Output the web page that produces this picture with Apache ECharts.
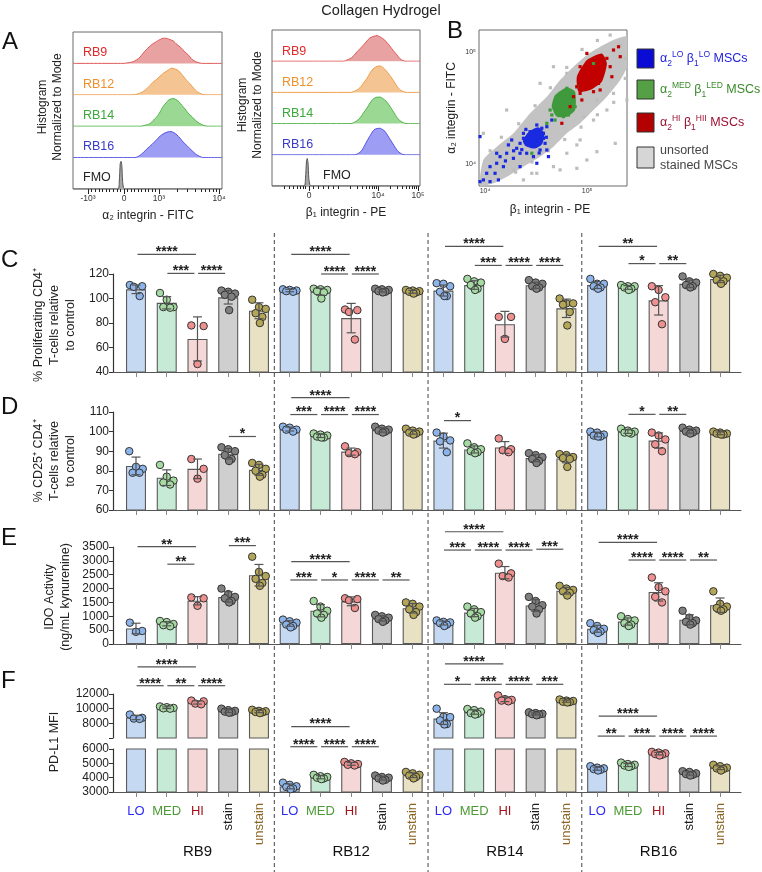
<!DOCTYPE html>
<html>
<head>
<meta charset="utf-8">
<title>Collagen Hydrogel</title>
<script src="https://cdn.jsdelivr.net/npm/echarts@6.0.0/dist/echarts.min.js"></script>
<style>
html,body{margin:0;padding:0;background:#fff;}
#chart{width:762px;height:872px;}
</style>
</head>
<body>
<div id="chart"></div>
<script>
// ================= DATA =================
const groups = ['RB9', 'RB12', 'RB14', 'RB16'];
const conditions = ['LO', 'MED', 'HI', 'stain', 'unstain'];

// ---- Panel A histograms (x in display units of the biexponential axis, y normalised to row height)
const alphaTickPos = [15, 51, 86, 146];
const alphaTickLab = ['-10³', '0', '10³', '10⁴'];
const alphaMinorPos = [18.6, 22.2, 25.8, 29.4, 33, 36.6, 40.2, 43.8, 47.4, 54.5, 58, 61.5, 65, 68.5, 72, 75.5, 79, 82.5, 104, 114.6, 122, 128, 132.7, 136.7, 140.2, 143.3];
const betaTickPos = [37, 106, 146];
const betaTickLab = ['0', '10⁴', '10⁵'];
const betaMinorPos = [12, 17, 21, 25, 28, 31, 33.5, 41, 46, 51, 56, 61, 66, 78, 85.1, 90.1, 94, 97.1, 99.8, 102.1, 104.2, 118, 125.1, 130.1, 134, 137.1, 139.8, 142.1, 144.2];

const alphaRB9 = [[0,0],[50,0],[55,0.02],[60,0.05],[64,0.12],[67,0.2],[70,0.32],[73.7,0.45],[78.7,0.6],[83.7,0.7],[87,0.76],[90,0.8],[93,0.8],[96,0.77],[100,0.72],[104,0.6],[108,0.5],[112,0.36],[115,0.28],[119,0.13],[123,0.05],[127,0.01],[130,0],[149,0]];
const alphaRB12 = [[0,0],[60,0],[65,0.03],[70,0.1],[74,0.2],[77,0.3],[80,0.4],[84,0.5],[88,0.62],[91,0.7],[95,0.78],[98.7,0.85],[101,0.83],[104,0.8],[107,0.72],[110,0.6],[114,0.45],[117,0.35],[121,0.2],[124,0.1],[128,0.03],[131,0],[149,0]];
const alphaRB14 = [[0,0],[68,0],[72,0.03],[77,0.08],[80,0.18],[84,0.3],[87,0.45],[90,0.62],[93,0.74],[96,0.84],[100,0.88],[103,0.85],[106,0.78],[109,0.66],[112,0.55],[115,0.42],[119,0.3],[123,0.17],[127,0.08],[131,0.02],[135,0],[149,0]];
const alphaRB16 = [[0,0],[62,0],[66,0.05],[70,0.15],[74,0.28],[79,0.42],[83,0.55],[87,0.68],[91,0.77],[95,0.82],[98,0.83],[101,0.79],[104,0.72],[107,0.62],[110,0.5],[114,0.38],[117,0.28],[121,0.16],[124,0.08],[128,0.02],[131,0],[149,0]];
const alphaFMO = [[0,0],[45,0],[46.3,0.25],[47.2,0.8],[48,0.88],[48.8,0.75],[49.6,0.25],[50.5,0.05],[52,0],[149,0]];

const betaRB9 = [[0,0],[72,0],[75,0.04],[78,0.08],[81,0.15],[85,0.3],[88,0.4],[91,0.5],[95,0.65],[98,0.75],[102,0.8],[105,0.82],[108,0.78],[111,0.72],[115,0.6],[118,0.48],[121,0.35],[125,0.2],[128,0.08],[131,0.02],[134,0],[148,0]];
const betaRB12 = [[0,0],[79,0],[81,0.02],[84,0.06],[88,0.15],[91,0.28],[95,0.45],[98,0.62],[101,0.75],[104,0.82],[108,0.85],[111,0.8],[114,0.7],[117,0.58],[120,0.45],[123,0.3],[126,0.15],[129,0.06],[132,0.02],[134,0],[148,0]];
const betaRB14 = [[0,0],[79,0],[81,0.02],[84,0.07],[88,0.18],[91,0.32],[95,0.5],[98,0.66],[101,0.78],[104,0.84],[108,0.85],[111,0.8],[114,0.72],[117,0.6],[120,0.45],[123,0.3],[126,0.15],[130,0.05],[133,0.01],[135,0],[148,0]];
const betaRB16 = [[0,0],[83,0],[85,0.02],[88,0.08],[90,0.15],[93,0.32],[96,0.5],[99,0.66],[102,0.8],[105,0.84],[108,0.85],[111,0.8],[113,0.75],[116,0.6],[119,0.45],[122,0.3],[125,0.15],[128,0.06],[131,0.01],[133,0],[148,0]];
const betaFMO = [[0,0],[32,0],[33.5,0.25],[34.5,0.8],[35.2,0.88],[36,0.75],[36.8,0.25],[37.8,0.05],[39,0],[148,0]];

// ---- Panel B scatter (log10 of fluorescence: [beta1-PE, alpha2-FITC])
const scatterTickPos = [4, 5];
const scatterTickLab = ['10⁴', '10⁵'];
const grayCloud = [[3.983,4.038],[4.115,4.156],[4.278,4.275],[4.441,4.453],[4.605,4.6],[4.735,4.749],[4.866,4.867],[4.997,4.971],[5.127,5.044],[5.258,5.104],[5.389,5.133],[5.389,4.867],[5.324,4.749],[5.193,4.6],[5.062,4.482],[4.931,4.364],[4.801,4.275],[4.670,4.156],[4.539,4.067],[4.375,3.979],[4.213,3.89],[4.081,3.831],[3.951,3.813]];
const grayPts = [[5.225,5.148],[5.324,5.059],[5.373,4.941],[5.373,4.763],[5.193,4.482],[5.062,4.393],[4.931,4.216],[4.801,4.098],[4.670,3.979],[4.507,3.920],[4.376,3.861],[3.984,4.275],[4.997,4.038],[4.899,3.964],[5.258,4.630],[4.801,4.808],[4.670,4.867],[4.539,4.719],[4.735,3.950],[5.095,4.571],[4.964,4.423],[5.389,4.571],[5.275,4.186],[4.899,4.172],[4.458,3.920],[4.278,3.950],[4.212,4.482],[5.095,4.112],[4.05,4.12],[4.16,4.24],[4.33,4.36],[4.49,4.52],[4.64,4.68],[4.80,4.86],[4.95,5.02],[5.10,5.10],[4.30,3.93],[4.46,4.02],[4.62,4.12],[4.78,4.22],[4.94,4.33],[5.10,4.44],[5.26,4.55]];
const blueCore = [[4.43,4.29],[4.52,4.33],[4.58,4.28],[4.56,4.18],[4.49,4.14],[4.40,4.16],[4.37,4.21]];
const bluePts = [[4.507,4.349],[4.556,4.320],[4.441,4.290],[4.376,4.275],[4.572,4.275],[4.474,4.246],[4.408,4.216],[4.523,4.216],[4.343,4.186],[4.458,4.157],[4.588,4.186],[4.539,4.127],[4.310,4.142],[4.408,4.098],[4.261,4.216],[4.212,4.098],[4.147,4.068],[4.278,4.053],[4.114,4.009],[4.049,3.979],[4.180,3.979],[4.016,3.920],[4.098,3.920],[3.984,3.861],[4.049,3.846],[4.131,3.861],[3.951,3.846],[4.343,3.979],[4.474,4.068],[4.229,4.172],[4.621,4.068],[4.507,4.009],[4.654,4.393],[4.605,4.334],[4.114,4.098],[3.951,4.246],[4.490,4.290],[4.425,4.260],[4.507,4.186],[4.572,4.231],[4.376,4.231],[4.458,4.201],[4.343,4.098],[4.605,4.127],[4.40,4.31],[4.60,4.24],[4.36,4.13],[4.53,4.10],[4.28,4.12],[4.20,4.03]];
const greenCore = [[4.686,4.615],[4.801,4.683],[4.882,4.645],[4.882,4.482],[4.801,4.423],[4.703,4.423],[4.654,4.512]];
const greenPts = [[4.735,4.630],[4.784,4.645],[4.817,4.601],[4.703,4.571],[4.768,4.556],[4.833,4.541],[4.670,4.512],[4.752,4.497],[4.801,4.482],[4.719,4.453],[4.850,4.630],[4.866,4.571],[4.654,4.438],[4.768,4.423],[4.899,4.689],[4.882,4.512],[4.637,4.482],[4.686,4.393],[4.605,4.364],[5.062,4.896],[4.458,4.098],[4.801,4.675],[4.752,4.586],[4.817,4.438],[4.703,4.512]];
const redCore = [[4.899,4.778],[4.997,4.926],[5.144,4.985],[5.193,4.896],[5.144,4.734],[5.029,4.660],[4.915,4.645]];
const redPts = [[4.931,4.867],[4.997,4.896],[5.062,4.926],[5.127,4.956],[4.964,4.808],[5.029,4.822],[5.095,4.867],[5.160,4.896],[4.931,4.749],[4.997,4.734],[5.062,4.778],[5.127,4.808],[4.899,4.689],[4.980,4.675],[5.046,4.704],[5.193,4.941],[5.225,4.867],[5.111,4.719],[4.931,4.630],[4.866,4.601],[4.997,4.985],[5.258,5.015],[5.307,5.044],[5.324,4.956],[5.242,4.778],[4.833,4.512],[4.948,4.571],[4.752,4.364],[5.062,4.645],[5.127,4.660]];

// ---- Panel C: % proliferating CD4+ T-cells relative to control
const cMean = [107.5,96.5,67,101,90, 106.5,105.5,84,106.5,105.5, 106.5,111,79,110.8,92, 111,109,98.5,112,116];
const cSD = [3.5,5,18,5.5,6.5, 1,2.8,12,1.2,1.2, 4.5,3.5,10.5,2.5,7.5, 2.8,1.5,12,3,3];
const cDots = [
  [111,110,109.5,102],[104.5,99,93,93,92.5],[78,77.5,46.5],[106.5,105.5,104,103,101.5,90.5],[99,93,91.5,88,85,80],
  [107.5,107,106.5,106,105.5],[108,107.5,107,106,105,100],[91,90.5,89,66.5],[108,107.5,107,106,105.5,105],[107,106.5,106,105.5,105,104],
  [112.5,112,110,105.5,102,102],[116,114,113,111,108,107],[85,85,67],[115,113,112,110,109,108],[100,96,96,95,89,78],
  [116,112,112,110,109,108],[111,110,110,109,108,107],[110,107,101,97,79],[118,114,113,111,110,109],[120,118.5,117,115,114,112]
];
const cSig = [[0,2,136,'****'],[1,2,120.5,'***'],[2,3,120.5,'****'],[5,7,136,'****'],[6,7,120,'****'],[7,8,120,'****'],[10,12,142.5,'****'],[11,12,127,'***'],[12,13,127,'****'],[13,14,127,'****'],[15,17,142.5,'**'],[16,17,128.5,'*'],[17,18,128.5,'**']];

// ---- Panel D: % CD25+ CD4+ T-cells relative to control
const dMean = [82.5,76.5,81,88.7,80.5, 101.3,97.8,89.8,100.8,99.8, 95.4,90.9,91.9,86.5,86.3, 98.5,100,95.4,100.3,99.1];
const dSD = [4.5,4,5,2.7,2.8, 1,0.8,1.8,1.1,1.1, 3.8,1.8,3,1.8,2.2, 1.2,0.9,3.9,1.1,0.7];
const dDots = [
  [90,82,81,79,79],[83,77,75,74,73],[86,81,76],[92,91,90,88,86,85],[84,83,81,80,78,77],
  [102.5,102,101,101,100],[99,98.5,98,97.5,97,97],[92.5,89.5,89,88.5],[102.5,101.5,101,100.5,100,99.5],[101.5,100.5,100,99.5,99,98.5],
  [99.5,97.5,95.5,95,89.5],[94,92,91,90,89.5,89],[96.5,91,90.5,89.5],[89,88,87,86,85,84],[88.5,88,87,86.5,86,82],
  [100,99.5,98.5,98,97.5,97.5],[101.5,100.5,100,99.5,99,99.5],[99.5,98,96,93.5,90],[102,101,100.5,100,99.5,99],[100,99.5,99,99,98.5,98.5]
];
const dSig = [[3,4,97.5,'*'],[5,7,117.3,'****'],[5,6,108.7,'***'],[6,7,108.7,'****'],[7,8,108.7,'****'],[10,11,105.6,'*'],[16,17,108.8,'*'],[17,18,108.8,'**']];

// ---- Panel E: IDO activity (ng/mL kynurenine)
const eMean = [560,730,1560,1700,2480, 740,1200,1540,925,1290, 755,1135,2575,1390,1925, 550,810,1880,875,1400];
const eSD = [190,75,150,190,390, 100,220,160,95,170, 70,150,220,210,120, 125,130,330,180,260];
const eDots = [
  [770,470,440],[830,790,720,680,640],[1680,1650,1380],[2000,1800,1700,1650,1550,1500],[3150,2600,2450,2350,2200,2100],
  [880,820,770,700,650,600],[1550,1350,1200,1100,1050,950],[1650,1620,1580,1300],[1050,1000,950,900,850,800],[1500,1450,1350,1250,1150,1050],
  [850,800,780,750,700,650],[1350,1250,1150,1100,1000,950],[2900,2550,2450,2400],[1700,1550,1400,1350,1250,1100],[2100,2000,1950,1900,1850,1750],
  [750,650,550,500,450,400],[1000,900,850,750,700,650],[2400,2050,1900,1700,1500],[1200,950,850,800,750,700],[1900,1450,1350,1300,1250,1200]
];
const eSig = [[0,2,3510,'**'],[1,2,2880,'**'],[3,4,3550,'***'],[5,7,2970,'****'],[5,6,2310,'***'],[6,7,2310,'*'],[7,8,2310,'****'],[8,9,2310,'**'],[10,12,4050,'****'],[10,11,3390,'***'],[11,12,3390,'****'],[12,13,3390,'****'],[13,14,3420,'***'],[15,17,3670,'****'],[16,17,3030,'****'],[17,18,3030,'****'],[18,19,3030,'**']];

// ---- Panel F: PD-L1 MFI (broken axis)
const fMean = [8800,10130,10850,9675,9610, 3390,4030,4960,3970,4175, 8650,9540,11280,9290,11020, 4630,4880,5675,4290,4690];
const fSD = [300,120,220,200,160, 170,110,95,130,160, 800,300,320,140,140, 110,105,90,110,130];
const fDots = [
  [9200,8750,8650,8600],[10300,10200,10100,10050,10000],[11100,11000,10700,10600],[10000,9800,9700,9600,9500,9450],[9850,9700,9650,9550,9500,9400],
  [3650,3500,3400,3350,3250,3200],[4200,4100,4050,4000,3950,3900],[5100,5000,4950,4900,4850],[4150,4050,4000,3950,3850,3800],[4400,4300,4200,4150,4050,3950],
  [10000,8900,8850,8400,7900,7850],[9950,9800,9600,9400,9300,9200],[11800,11300,11200,11100,11000],[9500,9400,9300,9250,9200,9100],[11250,11100,11050,10950,10900,10850],
  [4800,4700,4650,4600,4550,4500],[5050,4950,4900,4850,4800,4750],[5800,5750,5700,5650,5600,5550],[4450,4400,4300,4250,4200,4150],[4900,4800,4700,4650,4600,4500]
];
const fBreak = 6000;
const fSigUpper = [[0,2,15700,'****'],[0,1,13130,'****'],[1,2,13130,'**'],[2,3,13130,'****'],[10,12,16100,'****'],[10,11,13320,'*'],[11,12,13320,'***'],[12,13,13320,'****'],[13,14,13320,'***']];
const fSigLower = [[5,7,7560,'****'],[5,6,6160,'****'],[6,7,6160,'****'],[7,8,6160,'****'],[15,17,8300,'****'],[15,16,6900,'**'],[16,17,6900,'***'],[17,18,6900,'****'],[18,19,6900,'****']];

// ================= STYLE =================
const FONT = '"Liberation Sans", Arial, Helvetica, sans-serif';
const barFill = ['#c6d9f3', '#c7ead7', '#f6d7d7', '#cfcfcf', '#e9e1c3'];
const dotFill = ['#8cb4ea', '#a5dba2', '#ee9090', '#808080', '#b3a658'];
const condColor = ['#2b2bf5', '#4c9a34', '#a3151c', '#1a1a1a', '#8a6422'];

// ================= BUILD =================
const chart = echarts.init(document.getElementById('chart'), null, {renderer: 'canvas'});
const grids = [], xAxes = [], yAxes = [], series = [], graphics = [];
const nBars = groups.length * conditions.length;
const barIdx = Array.from({length: nBars}, (_, i) => i);
const X_MIN = -0.748, X_MAX = 19.68;
const PLOT_LEFT = 113, PLOT_RIGHT = 21;

function jitter(n) {
  const t = {1:[0], 2:[-0.15,0.15], 3:[-0.2,0.2,0], 4:[-0.2,0.2,-0.07,0.12], 5:[-0.22,0,0.22,-0.11,0.11], 6:[-0.22,0,0.22,-0.11,0.11,0.03]};
  return t[n] || new Array(n).fill(0);
}

function barPanel(o) {
  const g = grids.push({left: PLOT_LEFT, right: PLOT_RIGHT, top: o.top, height: o.height}) - 1;
  const xi = xAxes.push({type: 'value', gridIndex: g, position: 'bottom', min: X_MIN, max: X_MAX,
    axisLine: {show: o.showX, onZero: false, lineStyle: {color: '#555', width: 1.2}},
    axisTick: {show: o.showX, customValues: barIdx, length: 5, lineStyle: {color: '#888', width: 1}},
    axisLabel: {show: false}, splitLine: {show: false}}) - 1;
  const yi = yAxes.push({type: 'value', gridIndex: g, min: o.yMin, max: o.yMax, interval: o.yInt,
    axisLine: {show: true, onZero: false, lineStyle: {color: '#333', width: 1.2}},
    axisTick: {show: true, length: 4, lineStyle: {color: '#333', width: 1}},
    axisLabel: {fontSize: 12, color: '#222', margin: 4, formatter: o.yFmt || (v => String(v))},
    splitLine: {show: false}}) - 1;
  const keepBar = o.keepBar || (() => true);
  const keepPt = o.keepPt || (() => true);
  series.push({type: 'bar', xAxisIndex: xi, yAxisIndex: yi, barWidth: 20, z: 2, silent: true, clip: true,
    data: o.means.map((m, i) => ({value: [i, m], itemStyle: {color: barFill[i % 5]}})).filter(d => keepBar(d.value[1])),
    itemStyle: {borderColor: '#5a5a5a', borderWidth: 1.1}});
  const dd = [];
  o.dots.forEach((arr, i) => {
    const off = jitter(arr.length);
    arr.forEach((v, k) => { if (keepPt(v)) dd.push({value: [i + off[k], v], itemStyle: {color: dotFill[i % 5]}}); });
  });
  series.push({type: 'scatter', xAxisIndex: xi, yAxisIndex: yi, symbolSize: 7.5, z: 3, silent: true, clip: true,
    data: dd, itemStyle: {borderColor: '#333', borderWidth: 1, opacity: 1}});
  series.push({type: 'custom', xAxisIndex: xi, yAxisIndex: yi, z: 4, silent: true, clip: true,
    data: o.means.map((m, i) => [i, m, o.sds[i]]).filter(d => keepPt(d[1])),
    encode: {x: 0, y: 1},
    renderItem: (p, api) => {
      const x = api.value(0), m = api.value(1), s = api.value(2);
      const a = api.coord([x, m + s]), b = api.coord([x, m - s]);
      const w = 4.5, st = {stroke: '#555', lineWidth: 1.2};
      return {type: 'group', children: [
        {type: 'line', shape: {x1: a[0], y1: a[1], x2: b[0], y2: b[1]}, style: st},
        {type: 'line', shape: {x1: a[0] - w, y1: a[1], x2: a[0] + w, y2: a[1]}, style: st},
        {type: 'line', shape: {x1: b[0] - w, y1: b[1], x2: b[0] + w, y2: b[1]}, style: st}
      ]};
    }});
  if (o.sig && o.sig.length) {
    const sig = o.sig;
    series.push({type: 'custom', xAxisIndex: xi, yAxisIndex: yi, z: 5, silent: true, clip: false,
      data: sig.map(s => [s[0], s[2], s[1]]),
      encode: {x: 0, y: 1},
      renderItem: (p, api) => {
        const s = sig[p.dataIndex];
        const long = (s[1] - s[0]) >= 2;
        const a = api.coord([s[0] + (long ? 0.05 : 0.02), s[2]]);
        const b = api.coord([s[1] - (long ? 0.05 : 0.1), s[2]]);
        return {type: 'group', children: [
          {type: 'line', shape: {x1: a[0], y1: a[1], x2: b[0], y2: b[1]}, style: {stroke: '#555', lineWidth: 1.2}},
          {type: 'text', style: {text: s[3], x: (a[0] + b[0]) / 2, y: a[1] - 2, align: 'center', verticalAlign: 'middle',
            textAlign: 'center', textVerticalAlign: 'middle', font: 'bold 14px ' + FONT, fill: '#222'}}
        ]};
      }});
  }
  return {g, xi, yi};
}

function histPanel(left, top, width, height, rows, majorPos, majorLab, minorPos) {
  const fg = grids.push({left, top, width, height, show: true, borderColor: '#6b6b6b', borderWidth: 1, backgroundColor: 'rgba(0,0,0,0)'}) - 1;
  xAxes.push({type: 'value', gridIndex: fg, position: 'bottom', min: 0, max: width,
    axisLine: {show: false}, splitLine: {show: false},
    axisTick: {show: true, customValues: majorPos, length: 5, lineStyle: {color: '#222', width: 1}},
    axisLabel: {show: true, customValues: majorPos, formatter: v => majorLab[majorPos.indexOf(v)] || '', fontSize: 8.5, color: '#333', margin: 5}});
  xAxes.push({type: 'value', gridIndex: fg, position: 'bottom', min: 0, max: width,
    axisLine: {show: false}, splitLine: {show: false},
    axisTick: {show: true, customValues: minorPos, length: 3, lineStyle: {color: '#222', width: 1}},
    axisLabel: {show: false}});
  yAxes.push({type: 'value', gridIndex: fg, min: 0, max: 1, show: false});
  const rh = height / rows.length;
  rows.forEach((r, k) => {
    const g = grids.push({left, top: top + k * rh, width, height: rh}) - 1;
    const xi = xAxes.push({type: 'value', gridIndex: g, min: 0, max: width, show: false}) - 1;
    const yi = yAxes.push({type: 'value', gridIndex: g, min: 0, max: 1, show: false}) - 1;
    series.push({type: 'line', xAxisIndex: xi, yAxisIndex: yi, data: r.data, smooth: 0.25, symbol: 'none', silent: true, z: 2,
      lineStyle: {color: r.line, width: 1}, areaStyle: {color: r.fill, opacity: 1}});
  });
}

// ---- Panel A
const histRowsColors = [
  {line: '#df5a5a', fill: '#e9a2a2'},
  {line: '#ef9d4c', fill: '#f4c592'},
  {line: '#52b64a', fill: '#9bd893'},
  {line: '#5454e6', fill: '#9d9df3'},
  {line: '#555555', fill: '#a6a6a6'}
];
const alphaRows = [alphaRB9, alphaRB12, alphaRB14, alphaRB16, alphaFMO];
const betaRows = [betaRB9, betaRB12, betaRB14, betaRB16, betaFMO];
histPanel(73, 32, 149, 157, alphaRows.map((d, k) => Object.assign({data: d}, histRowsColors[k])), alphaTickPos, alphaTickLab, alphaMinorPos);
histPanel(272, 30, 148, 156, betaRows.map((d, k) => Object.assign({data: d}, histRowsColors[k])), betaTickPos, betaTickLab, betaMinorPos);

// ---- Panel B
(function () {
  const g = grids.push({left: 479, top: 30, width: 148, height: 156, show: true, borderColor: '#6b6b6b', borderWidth: 1, backgroundColor: 'rgba(0,0,0,0)'}) - 1;
  const xi = xAxes.push({type: 'value', gridIndex: g, min: 3.941, max: 5.39, axisLine: {show: false}, axisTick: {show: false}, splitLine: {show: false},
    axisLabel: {customValues: scatterTickPos, formatter: v => scatterTickLab[scatterTickPos.indexOf(v)] || '', fontSize: 7, color: '#333', margin: 2}}) - 1;
  const yi = yAxes.push({type: 'value', gridIndex: g, min: 3.807, max: 5.193, axisLine: {show: false}, axisTick: {show: false}, splitLine: {show: false},
    axisLabel: {customValues: scatterTickPos, formatter: v => scatterTickLab[scatterTickPos.indexOf(v)] || '', fontSize: 7, color: '#333', margin: 3}}) - 1;
  const poly = (pts, color, z) => ({type: 'custom', xAxisIndex: xi, yAxisIndex: yi, z, silent: true, clip: true, data: [[4.5, 4.5]],
    renderItem: (p, api) => ({type: 'polygon', shape: {points: pts.map(q => api.coord(q)), smooth: 0.2}, style: {fill: color}})});
  const pts = (data, color, z) => ({type: 'scatter', xAxisIndex: xi, yAxisIndex: yi, z, silent: true, clip: true, symbol: 'rect', symbolSize: 3.2,
    data, itemStyle: {color, opacity: 1}});
  series.push(poly(grayCloud, '#c3c3c3', 1));
  series.push(pts(grayPts, '#bdbdbd', 2));
  series.push(poly(blueCore, '#1a2ae0', 3));
  series.push(pts(bluePts, '#1a2ae0', 4));
  series.push(poly(greenCore, '#3f9a3c', 3));
  series.push(pts(greenPts, '#3f9a3c', 4));
  series.push(poly(redCore, '#c20000', 3));
  series.push(pts(redPts, '#c20000', 4));
})();

// ---- Panels C-F
barPanel({top: 274, height: 98, yMin: 40, yMax: 120, yInt: 20, means: cMean, sds: cSD, dots: cDots, sig: cSig, showX: true});
barPanel({top: 412, height: 98, yMin: 60, yMax: 110, yInt: 10, means: dMean, sds: dSD, dots: dDots, sig: dSig, showX: true});
barPanel({top: 547, height: 97, yMin: 0, yMax: 3500, yInt: 500, means: eMean, sds: eSD, dots: eDots, sig: eSig, showX: true});
barPanel({top: 694, height: 44, yMin: fBreak, yMax: 12000, yInt: 2000, means: fMean, sds: fSD, dots: fDots, sig: fSigUpper, showX: false,
  keepBar: v => v > fBreak, keepPt: v => v > fBreak, yFmt: v => (v === fBreak ? '' : String(v))});
const fLow = barPanel({top: 749, height: 43, yMin: 3000, yMax: fBreak, yInt: 1000, means: fMean, sds: fSD, dots: fDots, sig: fSigLower, showX: true,
  keepPt: v => v <= fBreak});

// x labels under panel F
const horizIdx = barIdx.filter(i => i % 5 < 3);
const rotIdx = barIdx.filter(i => i % 5 >= 3);
const groupIdx = groups.map((_, k) => k * 5 + 2);
const condRich = {};
conditions.forEach((c, k) => { condRich['c' + k] = {color: condColor[k], fontSize: 13, fontFamily: FONT}; });
xAxes.push({type: 'value', gridIndex: fLow.g, position: 'bottom', min: X_MIN, max: X_MAX, axisLine: {show: false}, axisTick: {show: false}, splitLine: {show: false},
  axisLabel: {customValues: horizIdx, margin: 13, fontSize: 13, rich: condRich, formatter: v => { const c = Math.round(v) % 5; return '{c' + c + '|' + conditions[c] + '}'; }}});
xAxes.push({type: 'value', gridIndex: fLow.g, position: 'bottom', min: X_MIN, max: X_MAX, axisLine: {show: false}, axisTick: {show: false}, splitLine: {show: false},
  axisLabel: {customValues: rotIdx, rotate: 90, margin: 11, fontSize: 13, rich: condRich, formatter: v => { const c = Math.round(v) % 5; return '{c' + c + '|' + conditions[c] + '}'; }}});
xAxes.push({type: 'value', gridIndex: fLow.g, position: 'bottom', min: X_MIN, max: X_MAX, axisLine: {show: false}, axisTick: {show: false}, splitLine: {show: false},
  axisLabel: {customValues: groupIdx, margin: 52, fontSize: 15, color: '#111', formatter: v => groups[Math.round((v - 2) / 5)]}});

// dashed group separators
(function () {
  const g = grids.push({left: PLOT_LEFT, right: PLOT_RIGHT, top: 233, bottom: 0}) - 1;
  const xi = xAxes.push({type: 'value', gridIndex: g, min: X_MIN, max: X_MAX, show: false}) - 1;
  const yi = yAxes.push({type: 'value', gridIndex: g, min: 0, max: 1, show: false}) - 1;
  const seps = groups.slice(1).map((_, k) => (k + 1) * conditions.length - 0.5);
  series.push({type: 'custom', xAxisIndex: xi, yAxisIndex: yi, z: 1, silent: true, clip: false,
    data: seps.map(s => [s, 0.5]), encode: {x: 0, y: 1},
    renderItem: (p, api) => {
      const a = api.coord([api.value(0), 1]), b = api.coord([api.value(0), 0]);
      return {type: 'line', shape: {x1: a[0], y1: a[1], x2: b[0], y2: b[1]}, style: {stroke: '#555', lineWidth: 1.1, lineDash: [4, 3]}};
    }});
})();

// ================= TEXT =================
function txt(x, y, text, size, color) {
  return {type: 'text', x, y, silent: true, style: {text, font: size + 'px ' + FONT, fill: color || '#222',
    align: 'left', verticalAlign: 'middle', textAlign: 'left', textVerticalAlign: 'middle'}};
}
function ctxt(x, y, text, size, color, rot, lh) {
  return {type: 'text', x, y, rotation: rot || 0, silent: true, style: {text, font: size + 'px ' + FONT, fill: color || '#222',
    align: 'center', verticalAlign: 'middle', textAlign: 'center', textVerticalAlign: 'middle', lineHeight: lh || size * 1.2}};
}
const R = Math.PI / 2;
graphics.push(ctxt(381, 11, 'Collagen Hydrogel', 14.5, '#222'));
graphics.push(txt(2, 42, 'A', 24, '#111'));
graphics.push(txt(447, 31, 'B', 24, '#111'));
graphics.push(txt(1, 260, 'C', 24, '#111'));
graphics.push(txt(1, 407, 'D', 24, '#111'));
graphics.push(txt(1, 538, 'E', 24, '#111'));
graphics.push(txt(1, 681, 'F', 24, '#111'));

// Panel A labels
const rowLabColors = ['#e02a2a', '#f0902a', '#3aa83a', '#3a3ac8', '#222'];
const rowLabs = groups.concat(['FMO']);
rowLabs.forEach((l, k) => {
  graphics.push(txt(83, 53 + k * 31.2, l, 12.5, rowLabColors[k]));
  graphics.push(txt(k < 4 ? 282 : 323, 52 + k * 31, l, 12.5, rowLabColors[k]));
});
graphics.push(ctxt(50, 107, 'Histogram\nNormalized to Mode', 12, '#222', R, 15));
graphics.push(ctxt(250, 105, 'Histogram\nNormalized to Mode', 12, '#222', R, 15));
graphics.push(ctxt(148, 216, 'α₂ integrin - FITC', 12, '#222'));
graphics.push(ctxt(346, 213, 'β₁ integrin - PE', 12, '#222'));
graphics.push(ctxt(550, 210, 'β₁ integrin - PE', 12, '#222'));
graphics.push(ctxt(452, 108, 'α₂ integrin - FITC', 12, '#222', R));

// Panel B legend
const legendItems = [
  {fill: '#0b0bd6', color: '#2222dd', a: 'LO', b: 'LO'},
  {fill: '#55a044', color: '#3b8a2b', a: 'MED', b: 'LED'},
  {fill: '#b30000', color: '#9b1030', a: 'HI', b: 'HII'}
];
legendItems.forEach((it, k) => {
  const y = [49, 80, 113][k];
  graphics.push({type: 'rect', silent: true, shape: {x: 637, y, width: 17, height: 19}, style: {fill: it.fill, stroke: '#333', lineWidth: 1}});
  const c = it.color;
  graphics.push({type: 'text', x: 660, y: y + 10, silent: true, style: {
    text: '{t|α}{s|2}{p|' + it.a + '} {t|β}{s|1}{p|' + it.b + '} {t|MSCs}',
    verticalAlign: 'middle', textVerticalAlign: 'middle', align: 'left', fill: c, font: '12.5px ' + FONT,
    rich: {t: {fontSize: 12.5, fill: c, color: c, lineHeight: 18, fontFamily: FONT},
           s: {fontSize: 8.5, fill: c, color: c, lineHeight: 18, verticalAlign: 'bottom', fontFamily: FONT},
           p: {fontSize: 8.5, fill: c, color: c, lineHeight: 18, verticalAlign: 'top', fontFamily: FONT}}}});
});
graphics.push({type: 'rect', silent: true, shape: {x: 637, y: 147, width: 17, height: 21}, style: {fill: '#d6d6d6', stroke: '#333', lineWidth: 1}});
graphics.push({type: 'text', x: 660, y: 158, silent: true, style: {text: 'unsorted\nstained MSCs', font: '12.5px ' + FONT, fill: '#444',
  align: 'left', verticalAlign: 'middle', textAlign: 'left', textVerticalAlign: 'middle', lineHeight: 15}});

// y-axis titles for C-F
graphics.push(ctxt(55, 325, '% Proliferating CD4⁺\nT-cells relative\nto control', 12.5, '#222', R, 16));
graphics.push(ctxt(55, 461, '% CD25⁺ CD4⁺\nT-cells relative\nto control', 12.5, '#222', R, 16));
graphics.push(ctxt(58, 597, 'IDO Activity\n(ng/mL kynurenine)', 12.5, '#222', R, 16));
graphics.push(ctxt(55, 742, 'PD-L1 MFI', 12.5, '#222', R, 16));

chart.setOption({
  animation: false,
  backgroundColor: '#ffffff',
  textStyle: {fontFamily: FONT},
  grid: grids, xAxis: xAxes, yAxis: yAxes, series: series,
  graphic: {elements: graphics}
});
</script>
</body>
</html>
